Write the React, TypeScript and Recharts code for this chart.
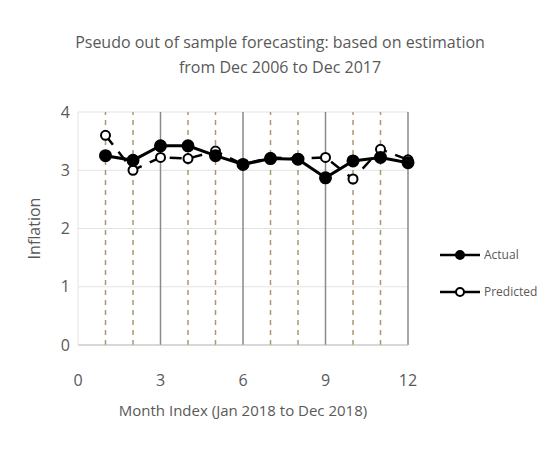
import { CartesianGrid, Line, LineChart, ReferenceLine, XAxis, YAxis } from "recharts";

const months = [1, 2, 3, 4, 5, 6, 7, 8, 9, 10, 11, 12];
const actual = [3.25, 3.17, 3.42, 3.42, 3.25, 3.1, 3.2, 3.19, 2.87, 3.16, 3.22, 3.13];
const predicted = [3.6, 3.0, 3.22, 3.2, 3.33, 3.1, 3.22, 3.2, 3.22, 2.85, 3.36, 3.18];
const xTicks = [0, 3, 6, 9, 12];
const yTicks = [0, 1, 2, 3, 4];
const solidLines = [3, 6, 9, 12];
const dashedLines = [1, 2, 4, 5, 7, 8, 10, 11];

const data = months.map((m, i) => ({ m, actual: actual[i], predicted: predicted[i] }));

const FONT = "'Open Sans', 'Liberation Sans', sans-serif";
const GREY = "#595959";

function LegendBox() {
  const row = (label: string, filled: boolean) => (
    <div style={{ display: "flex", alignItems: "center", height: 37 }}>
      <svg width={40} height={12}>
        <line x1={0} y1={6} x2={40} y2={6} stroke="#000" strokeWidth={2.5} />
        <circle cx={20} cy={6} r={4} fill={filled ? "#000" : "#fff"} stroke="#000" strokeWidth={2} />
      </svg>
      <span style={{ marginLeft: 4, fontSize: 12, color: GREY, fontFamily: FONT }}>{label}</span>
    </div>
  );
  return (
    <div style={{ position: "absolute", left: 440, top: 236, width: 110 }}>
      {row("Actual", true)}
      {row("Predicted", false)}
    </div>
  );
}

export default function App() {
  return (
    <div style={{ position: "absolute", left: 0, top: 0, width: 546, height: 450, background: "#fff", fontFamily: FONT }}>
      <div style={{ position: "absolute", left: 0, top: 30, width: 560, textAlign: "center", fontSize: 16, lineHeight: "25px", color: GREY }}>
        Pseudo out of sample forecasting: based on estimation
        <br />
        from Dec 2006 to Dec 2017
      </div>
      <LineChart width={546} height={450} data={data} margin={{ top: 112, right: 138, left: 20, bottom: 28 }}>
        <CartesianGrid vertical={false} stroke="#e3e3e3" />
        <XAxis
          dataKey="m" type="number" domain={[0, 12]} ticks={xTicks} height={77}
          tick={{ fill: GREY, fontSize: 16, dy: 22 }} tickLine={false}
          axisLine={{ stroke: "#bfbfbf" }}
          label={{ value: "Month Index (Jan 2018 to Dec 2018)", position: "insideBottom", offset: 6, fill: GREY, fontSize: 15 }}
        />
        <YAxis
          type="number" domain={[0, 4]} ticks={yTicks} width={58}
          tick={{ fill: GREY, fontSize: 16 }} tickLine={false}
          axisLine={{ stroke: "#e3e3e3" }}
          label={{ value: "Inflation", angle: -90, position: "insideLeft", offset: 14, fill: GREY, fontSize: 16, style: { textAnchor: "middle" } }}
        />
        {dashedLines.map((x) => (
          <ReferenceLine key={"d" + x} x={x} stroke="#ad9870" strokeDasharray="5 5" strokeWidth={1.5} />
        ))}
        {solidLines.map((x) => (
          <ReferenceLine key={"s" + x} x={x} stroke="#8a8a8a" strokeWidth={1.5} />
        ))}
        <Line dataKey="predicted" name="Predicted" stroke="#000" strokeWidth={2.5} strokeDasharray="12 9"
          dot={{ r: 4.5, fill: "#fff", stroke: "#000", strokeWidth: 2, strokeDasharray: "0" }} isAnimationActive={false} />
        <Line dataKey="actual" name="Actual" stroke="#000" strokeWidth={3}
          dot={{ r: 5, fill: "#000", stroke: "#000" }} isAnimationActive={false} />
      </LineChart>
      <LegendBox />
    </div>
  );
}
